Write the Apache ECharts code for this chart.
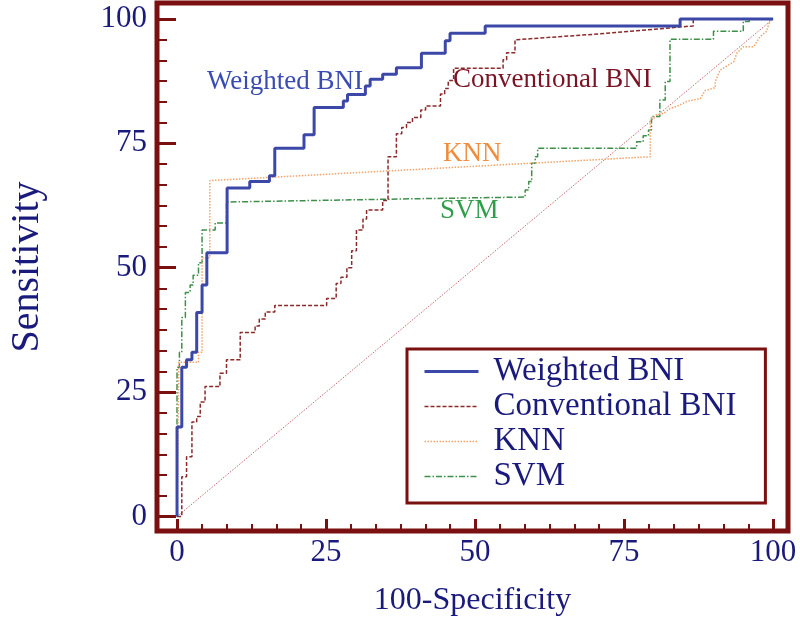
<!DOCTYPE html>
<html>
<head>
<meta charset="utf-8">
<script src="https://cdn.jsdelivr.net/npm/echarts@6/dist/echarts.min.js"></script>
<style>html,body{margin:0;padding:0;background:#fff;}#c{width:800px;height:621px;}</style>
</head>
<body>
<div id="c"></div>
<script>
// ---- data ----
const seriesNames = ['Weighted BNI', 'Conventional BNI', 'KNN', 'SVM'];
const majorTicks = [0, 25, 50, 75, 100];
const xTitle = '100-Specificity';
const yTitle = 'Sensitivity';

const weightedBNI = [[0,0],[0,18],[0.8,18],[0.8,30],[1.6,30],[1.6,31.5],[2.5,31.5],[2.5,33],[3.3,33],[3.3,41],[4.2,41],[4.2,46.5],[5,46.5],[5,53],[8.4,53],[8.4,66],[12.2,66],[12.2,67.3],[15.5,67.3],[15.5,68.5],[16.4,68.5],[16.4,74],[21.3,74],[21.3,76.7],[23,76.7],[23,82.2],[27.9,82.2],[27.9,83.5],[28.6,83.5],[28.6,84.8],[31.6,84.8],[31.6,86.5],[32.4,86.5],[32.4,87.9],[34.5,87.9],[34.5,88.9],[36.8,88.9],[36.8,90.2],[41,90.2],[41,93.1],[45,93.1],[45,95.6],[45.8,95.6],[45.8,97.1],[51.7,97.1],[51.7,98.6],[84.4,98.6],[84.4,100],[100,100]];

const conventionalBNI = [[0,0],[0.8,0],[0.8,8],[1.6,8],[1.6,12],[2.5,12],[2.5,19],[3.3,19],[3.3,20.1],[3.9,20.1],[3.9,23],[4.7,23],[4.7,26.1],[7.2,26.1],[7.2,28.8],[8.3,28.8],[8.3,31.5],[10.6,31.5],[10.6,37],[13.1,37],[13.1,38.3],[13.8,38.3],[13.8,39.7],[14.8,39.7],[14.8,41.1],[16.4,41.1],[16.4,42.4],[25.1,42.4],[25.1,43.8],[26.7,43.8],[26.7,46.8],[27.5,46.8],[27.5,48.1],[28.5,48.1],[28.5,50],[29.3,50],[29.3,53.4],[30.1,53.4],[30.1,57.6],[31.2,57.6],[31.2,59.8],[31.8,59.8],[31.8,61.6],[34.5,61.6],[34.5,63.5],[35.4,63.5],[35.4,72.3],[36.8,72.3],[36.8,76.9],[37.7,76.9],[37.7,78.2],[38.5,78.2],[38.5,79.2],[39.5,79.2],[39.5,80.2],[40.9,80.2],[40.9,81.7],[41.7,81.7],[41.7,82.5],[44.2,82.5],[44.2,84.9],[44.9,84.9],[44.9,86],[45.5,86],[45.5,87.6],[46.4,87.6],[46.4,90.1],[54.7,90.1],[54.7,91.8],[55.3,91.8],[55.3,93.2],[56.7,93.2],[56.7,95.8],[71,97],[86.6,98.6],[86.6,100],[100,100]];

const knn = [[0,0],[0.3,0],[0.3,31],[3.6,31],[3.6,33],[4.2,33],[4.2,52],[5.5,52],[5.5,67.5],[79.4,72.3],[79.4,79.7],[80.4,80.7],[81.6,81],[82.7,82],[83.8,82.4],[85.5,83.4],[86.6,83.7],[87.8,84],[88.6,85.6],[90.3,86.2],[90.3,87.4],[91.1,89.7],[93.4,91.4],[93.9,93.1],[95,94.4],[96.7,94.4],[97.8,96.4],[98.9,97.5],[99.5,99.8],[100,100]];

const svm = [[0,0],[0,30],[0.4,30],[0.4,33],[0.8,33],[0.8,40],[1.4,40],[1.4,45],[2.2,45],[2.2,46.5],[2.7,46.5],[2.7,48.5],[3.6,48.5],[3.6,51],[4.2,51],[4.2,57.6],[6.4,57.6],[6.4,59],[8.3,59],[8.3,63.2],[37,63.8],[58.4,64.2],[58.4,65.6],[59,65.6],[59,67.3],[59.5,67.3],[59.5,71],[60.1,71],[60.1,72.3],[60.5,72.3],[60.5,74],[77.1,74],[77.1,75.3],[78.2,75.3],[78.2,76.5],[79.1,76.5],[79.1,77.7],[79.6,77.7],[79.6,80.4],[81,80.4],[81,83.7],[81.9,83.7],[81.9,87.4],[82.7,87.4],[82.7,95.9],[90,95.9],[90,97.5],[95,97.5],[95,99.5],[96,99.5],[96,100],[100,100]];

const reference = [[0,0],[100,100]];

// ---- styling ----
const FRAME = '#7a1010';
const NAVY = '#1a1a7c';
const FONT = '"Liberation Serif","Times New Roman",serif';
const XMIN = -3.36, XMAX = 102.5, YMIN = -2.92, YMAX = 103.2;
const minorTicks = [];
for (let i = 0; i <= 24; i++) { if (i % 6 !== 0) minorTicks.push(i * 25 / 6); }

function axisPair(dim) {
  const isX = dim === 'x';
  const min = isX ? XMIN : YMIN, max = isX ? XMAX : YMAX;
  const pos = isX ? 'bottom' : 'left';
  const major = {
    type: 'value', min: min, max: max, position: pos,
    axisLine: { show: false, onZero: false }, splitLine: { show: false },
    axisTick: { show: true, inside: true, length: isX ? 12 : 19, customValues: majorTicks, lineStyle: { color: FRAME, width: 3 } },
    axisLabel: { show: true, customValues: majorTicks, color: NAVY, fontSize: 31, fontFamily: FONT, margin: isX ? 6 : 10 },
    name: isX ? xTitle : yTitle, nameLocation: 'middle', nameGap: isX ? 54 : 110,
    nameMoveOverlap: false,
    nameTextStyle: { color: NAVY, fontSize: isX ? 32 : 40, fontFamily: FONT }
  };
  const minor = {
    type: 'value', min: min, max: max, position: pos,
    axisLine: { show: false, onZero: false }, splitLine: { show: false },
    axisTick: { show: true, inside: true, length: isX ? 7 : 10, customValues: minorTicks, lineStyle: { color: FRAME, width: 2 } },
    axisLabel: { show: false }
  };
  return [major, minor];
}

const styles = [
  { color: '#3c48a8', width: 3, type: 'solid' },
  { color: '#8a2a2a', width: 1.5, type: [4, 2] },
  { color: '#f2a46a', width: 1.5, type: [1.5, 1.5] },
  { color: '#3d8f4a', width: 1.5, type: [6, 2, 1.5, 2] }
];
const datasets = [weightedBNI, conventionalBNI, knn, svm];

const series = datasets.map((d, i) => ({
  name: seriesNames[i], type: 'line', data: d, symbol: 'none', silent: true,
  lineStyle: styles[i], itemStyle: { color: styles[i].color }, z: 10 - i
}));
series.push({ name: 'ref', type: 'line', data: reference, symbol: 'none', silent: true,
  lineStyle: { color: '#c46a6a', width: 1, type: [1.5, 1.5] }, z: 1 });

const chart = echarts.init(document.getElementById('c'), null, { renderer: 'canvas' });
chart.setOption({
  animation: false,
  backgroundColor: '#ffffff',
  grid: { left: 157, top: 3, right: 12, bottom: 90, show: true, borderColor: FRAME, borderWidth: 5, backgroundColor: '#fff', outerBoundsMode: 'none' },
  xAxis: axisPair('x'),
  yAxis: axisPair('y'),
  legend: {
    data: seriesNames.map((n, i) => ({ name: n, lineStyle: { width: styles[i].width, type: styles[i].type, color: styles[i].color } })),
    orient: 'vertical', left: 407, top: 349,
    itemWidth: 54, itemHeight: 12, itemGap: 0,
    itemStyle: { opacity: 0 },
    padding: [5, 29, 9, 16], borderColor: FRAME, borderWidth: 3, backgroundColor: '#fff',
    textStyle: { color: NAVY, fontSize: 33, fontFamily: FONT, lineHeight: 35, padding: [0, 0, 0, 10] },
    selectedMode: false
  },
  graphic: [
    { type: 'text', left: 207, top: 68, style: { text: 'Weighted BNI', fill: '#3a4cb4', font: '27px ' + FONT } },
    { type: 'text', left: 453, top: 66, style: { text: 'Conventional BNI', fill: '#7a1424', font: '27px ' + FONT } },
    { type: 'text', left: 443, top: 140, style: { text: 'KNN', fill: '#f08c3c', font: '27px ' + FONT } },
    { type: 'text', left: 440, top: 197, style: { text: 'SVM', fill: '#2e9e4a', font: '27px ' + FONT } }
  ],
  series: series
});
</script>
</body>
</html>
